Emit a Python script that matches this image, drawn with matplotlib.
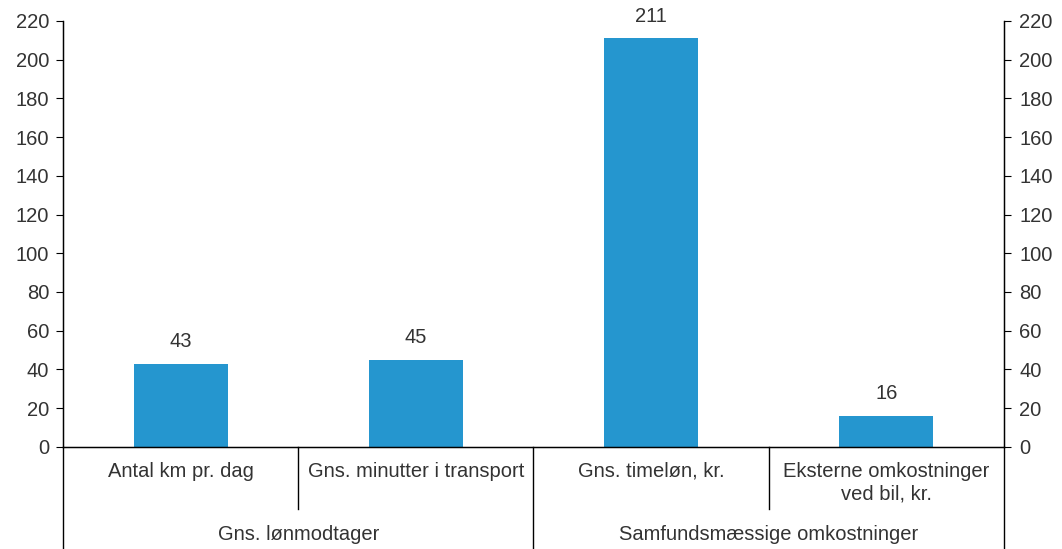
import matplotlib.pyplot as plt

plt.rcParams['font.family'] = ['Liberation Sans', 'DejaVu Sans']

kategorier = ['Antal km pr. dag', 'Gns. minutter i transport',
              'Gns. timeløn, kr.', 'Eksterne omkostninger\nved bil, kr.']
grupper = ['Gns. lønmodtager', 'Samfundsmæssige omkostninger']
gruppe_start = [0, 2]
vaerdier = [43, 45, 211, 16]
yticks = list(range(0, 221, 20))

farve = '#2596cf'
tekst = '#333333'
fs = 14.5

fig = plt.figure(figsize=(10.62, 5.49), dpi=100)
ax = fig.add_axes([0.0593, 0.186, 0.886, 0.776])

x = list(range(len(kategorier)))
ax.bar(x, vaerdier, width=0.4, color=farve, zorder=2)
for xi, v in zip(x, vaerdier):
    ax.annotate(str(v), (xi, v), xytext=(0, 9), textcoords='offset points',
                ha='center', va='bottom', fontsize=fs, color=tekst)

ax.set_xlim(-0.5, len(kategorier) - 0.5)
ax.set_ylim(0, 220)
ax.set_yticks(yticks)
ax.set_xticks([])
ax.spines['top'].set_visible(False)
for s in ['left', 'right', 'bottom']:
    ax.spines[s].set_color('black')
    ax.spines[s].set_linewidth(1)
ax.tick_params(axis='y', direction='out', length=5, pad=5, colors='black',
               labelcolor=tekst, labelsize=fs)

ax2 = ax.twinx()
ax2.set_ylim(0, 220)
ax2.set_yticks(yticks)
ax2.spines['top'].set_visible(False)
ax2.tick_params(axis='y', direction='out', length=5, pad=6, colors='black',
                labelcolor=tekst, labelsize=fs)

# kategori-akse under figuren
tr = ax.get_xaxis_transform()
for xi, navn in zip(x, kategorier):
    ax.text(xi, -0.035, navn, transform=tr, ha='center', va='top',
            fontsize=fs, color=tekst, linespacing=1.25)

for i in range(1, len(kategorier)):
    if i in gruppe_start:
        lo = -0.24
    else:
        lo = -0.145
    ax.plot([i - 0.5, i - 0.5], [0, lo], transform=tr, color='black',
            lw=1, clip_on=False)
for kant in [-0.5, len(kategorier) - 0.5]:
    ax.plot([kant, kant], [0, -0.24], transform=tr, color='black',
            lw=1, clip_on=False)

gruppe_slut = gruppe_start[1:] + [len(kategorier)]
for navn, a, b in zip(grupper, gruppe_start, gruppe_slut):
    ax.text((a + b - 1) / 2, -0.205, navn, transform=tr, ha='center',
            va='center', fontsize=fs, color=tekst)

fig.savefig('out.png', dpi=100)
